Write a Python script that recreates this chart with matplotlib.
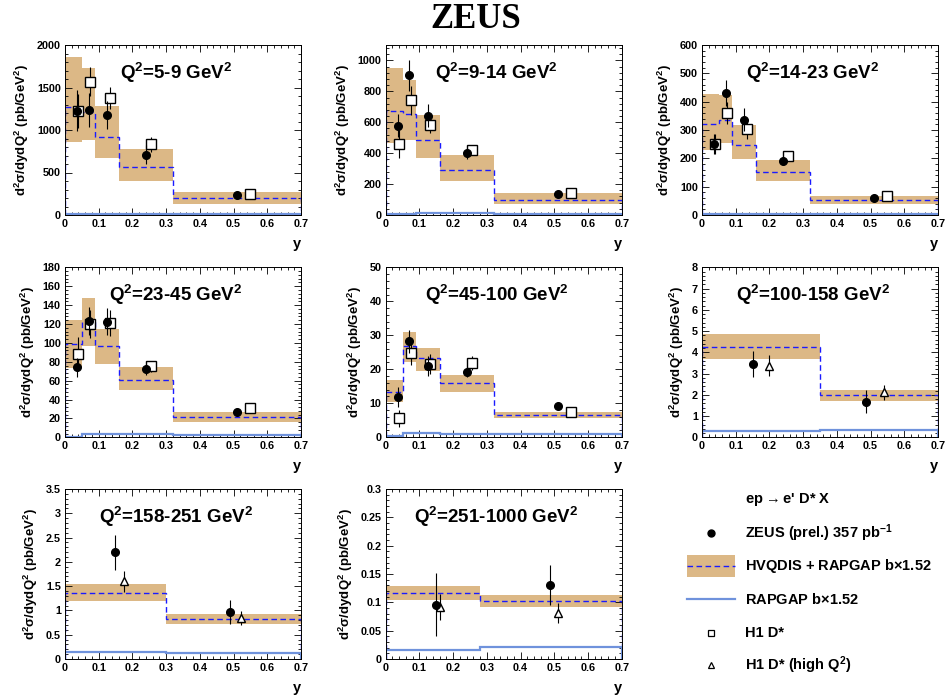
import matplotlib
matplotlib.use("Agg")
import matplotlib.pyplot as plt
import numpy as np
from matplotlib.ticker import AutoMinorLocator, MultipleLocator
from matplotlib.patches import Rectangle
from matplotlib.lines import Line2D

plt.rcParams["font.family"] = ["Liberation Sans", "DejaVu Sans"]
plt.rcParams["font.weight"] = "bold"
plt.rcParams["mathtext.default"] = "regular"

BAND = "#dcb886"
DASH = "#1a1aff"
RAP = "#6f92dc"

# bin edges in y
edges_5 = [0.0, 0.05, 0.09, 0.16, 0.32, 0.7]
edges_100 = [0.0, 0.35, 0.7]
edges_158 = [0.0, 0.30, 0.7]
edges_251 = [0.0, 0.28, 0.7]

x_zeus_5 = [0.035, 0.07, 0.125, 0.24, 0.51]
x_h1_5 = [0.038, 0.074, 0.132, 0.256, 0.55]

# Q2 = 5-9
q1_band_hi = [1855, 1727, 1285, 781, 273]
q1_band_lo = [855, 879, 672, 398, 133]
q1_nlo = [1270, 1215, 918, 559, 195]
q1_rap = [8, 12, 14, 13, 9]
q1_zeus = [1227, 1238, 1176, 711, 234]
q1_zeus_err = [240, 200, 160, 110, 20]
q1_h1 = [1227, 1570, 1375, 832, 242]
q1_h1_err = [200, 170, 130, 90, 20]

# Q2 = 9-14
q2_band_hi = [950, 875, 647, 391, 140]
q2_band_lo = [467, 484, 370, 219, 73]
q2_nlo = [675, 654, 488, 288, 95]
q2_rap = [5, 8, 10, 10, 8]
q2_zeus = [578, 905, 643, 398, 133]
q2_zeus_err = [75, 100, 75, 35, 10]
q2_h1 = [460, 742, 580, 419, 144]
q2_h1_err = [90, 95, 50, 30, 8]

# Q2 = 14-23
q3_band_hi = [428, 424, 319, 193, 67]
q3_band_lo = [231, 254, 198, 120, 40]
q3_nlo = [321, 336, 248, 152, 52]
q3_rap = [2, 4, 4, 4, 3]
q3_zeus = [251, 430, 336, 190, 61]
q3_zeus_err = [35, 45, 40, 15, 5]
q3_h1 = [251, 360, 303, 207, 67]
q3_h1_err = [35, 40, 35, 15, 5]

# Q2 = 23-45
q4_band_hi = [124, 148, 115, 74, 26.5]
q4_band_lo = [73, 97, 78, 50, 16.6]
q4_nlo = [98.5, 122.5, 97, 61, 21]
q4_rap = [0.8, 3, 3, 3, 2.5]
q4_zeus = [74, 123, 122.5, 72, 27]
q4_zeus_err = [10, 15, 14, 6, 2]
q4_h1 = [88, 120, 121, 75, 31.4]
q4_h1_err = [18, 15, 14, 6, 2]

# Q2 = 45-100
q5_band_hi = [16.9, 31, 26.2, 18.3, 7.5]
q5_band_lo = [10.3, 22, 19.5, 13.3, 5.6]
q5_nlo = [13.4, 26.9, 23.2, 15.9, 6.6]
q5_rap = [0.4, 1.2, 1.2, 1.1, 0.9]
q5_zeus = [11.9, 28.2, 21, 19.3, 9.2]
q5_zeus_err = [3, 3.5, 3, 1.5, 0.8]
q5_h1 = [5.6, 24.9, 21.6, 21.9, 7.5]
q5_h1_err = [2.5, 3.5, 3, 2, 0.6]

# Q2 = 100-158
q6_band_hi = [4.85, 2.23]
q6_band_lo = [3.67, 1.73]
q6_nlo = [4.27, 1.98]
q6_rap = [0.30, 0.35]
q6_x_zeus = [0.15, 0.486]
q6_zeus = [3.45, 1.68]
q6_zeus_err = [0.62, 0.55]
q6_x_h1 = [0.20, 0.54]
q6_h1 = [3.37, 2.12]
q6_h1_err = [0.5, 0.35]

# Q2 = 158-251
q7_band_hi = [1.545, 0.927]
q7_band_lo = [1.20, 0.72]
q7_nlo = [1.366, 0.824]
q7_rap = [0.144, 0.12]
q7_x_zeus = [0.148, 0.488]
q7_zeus = [2.2, 0.975]
q7_zeus_err = [0.36, 0.25]
q7_x_h1 = [0.176, 0.521]
q7_h1 = [1.6, 0.84]
q7_h1_err = [0.22, 0.14]

# Q2 = 251-1000
q8_band_hi = [0.1294, 0.113]
q8_band_lo = [0.104, 0.092]
q8_nlo = [0.117, 0.102]
q8_rap = [0.016, 0.022]
q8_x_zeus = [0.148, 0.488]
q8_zeus = [0.096, 0.1306]
q8_zeus_err = [0.056, 0.035]
q8_x_h1 = [0.16, 0.51]
q8_h1 = [0.092, 0.081]
q8_h1_err = [0.023, 0.017]

panels = [
    ("5-9", edges_5, q1_band_hi, q1_band_lo, q1_nlo, q1_rap, x_zeus_5, q1_zeus,
     q1_zeus_err, x_h1_5, q1_h1, q1_h1_err, "s", 2000, 500),
    ("9-14", edges_5, q2_band_hi, q2_band_lo, q2_nlo, q2_rap, x_zeus_5, q2_zeus,
     q2_zeus_err, x_h1_5, q2_h1, q2_h1_err, "s", 1100, 200),
    ("14-23", edges_5, q3_band_hi, q3_band_lo, q3_nlo, q3_rap, x_zeus_5, q3_zeus,
     q3_zeus_err, x_h1_5, q3_h1, q3_h1_err, "s", 600, 100),
    ("23-45", edges_5, q4_band_hi, q4_band_lo, q4_nlo, q4_rap, x_zeus_5, q4_zeus,
     q4_zeus_err, x_h1_5, q4_h1, q4_h1_err, "s", 180, 20),
    ("45-100", edges_5, q5_band_hi, q5_band_lo, q5_nlo, q5_rap, x_zeus_5, q5_zeus,
     q5_zeus_err, x_h1_5, q5_h1, q5_h1_err, "s", 50, 10),
    ("100-158", edges_100, q6_band_hi, q6_band_lo, q6_nlo, q6_rap, q6_x_zeus, q6_zeus,
     q6_zeus_err, q6_x_h1, q6_h1, q6_h1_err, "^", 8, 1),
    ("158-251", edges_158, q7_band_hi, q7_band_lo, q7_nlo, q7_rap, q7_x_zeus, q7_zeus,
     q7_zeus_err, q7_x_h1, q7_h1, q7_h1_err, "^", 3.5, 0.5),
    ("251-1000", edges_251, q8_band_hi, q8_band_lo, q8_nlo, q8_rap, q8_x_zeus, q8_zeus,
     q8_zeus_err, q8_x_h1, q8_h1, q8_h1_err, "^", 0.3, 0.05),
]

W, H = 947, 695
col_left = [65, 385.7, 702]
row_bottom = [215, 437.3, 659]
aw, ah = 236, 170

fig = plt.figure(figsize=(W / 100, H / 100), dpi=100)
fig.text(476 / W, 1 - 20 / H, "ZEUS", ha="center", va="center",
         family="Liberation Serif", weight="bold", fontsize=25)


def fmt(v):
    return "%g" % v


for i, (lab, edges, hi, lo, nlo, rap, xz, yz, ez, xh, yh, eh, hm, ymax, ystep) in enumerate(panels):
    r, c = divmod(i, 3)
    ax = fig.add_axes([col_left[c] / W, 1 - row_bottom[r] / H, aw / W, ah / H])
    e = np.array(edges)
    for k in range(len(hi)):
        ax.fill_between([e[k], e[k + 1]], lo[k], hi[k], color=BAND, lw=0, zorder=1)
    ax.stairs(nlo, e, color=DASH, lw=1.0, ls=(0, (4, 2.5)), zorder=2)
    ax.stairs(rap, e, color=RAP, lw=1.6, zorder=2)
    ax.errorbar(xh, yh, yerr=eh, fmt=hm, mfc="white", mec="black", ms=6.5 if hm == "s" else 6,
                mew=1.0, ecolor="black", elinewidth=0.8, capsize=0, zorder=4)
    ax.errorbar(xz, yz, yerr=ez, fmt="o", color="black", ms=5.5,
                elinewidth=0.8, capsize=0, zorder=5)
    ax.set_xlim(0, 0.7)
    ax.set_ylim(0, ymax)
    ax.set_xticks(np.arange(0, 0.71, 0.1))
    ax.set_xticklabels([fmt(round(v, 1)) for v in np.arange(0, 0.71, 0.1)])
    yt = np.arange(0, ymax + ystep * 0.01, ystep)
    ax.set_yticks(yt)
    ax.set_yticklabels([fmt(round(v, 3)) for v in yt])
    ax.xaxis.set_minor_locator(AutoMinorLocator(5))
    ax.yaxis.set_minor_locator(AutoMinorLocator(5))
    ax.tick_params(which="both", direction="in", top=True, right=True,
                   labelsize=7.8, pad=3)
    ax.tick_params(which="major", length=5, width=0.6)
    ax.tick_params(which="minor", length=2.5, width=0.6)
    for sp in ax.spines.values():
        sp.set_linewidth(0.7)
    ax.set_ylabel(r"d$^2\sigma$/dydQ$^2$ (pb/GeV$^2$)", fontsize=9.5, weight="bold",
                  labelpad=4)
    ax.text(0.47, 0.835, r"Q$^2$=" + lab + r" GeV$^2$", transform=ax.transAxes,
            ha="center", va="center", fontsize=13.5, weight="bold")
    ax.text(1.0, -0.17, "y", transform=ax.transAxes, ha="right", va="center",
            fontsize=10.5, weight="bold")

# legend drawn in the empty slot
lx_sym, lx_txt = 711, 745
fs = 10.5


def fx(px):
    return px / W


def fy(py):
    return 1 - py / H


fig.text(fx(lx_txt), fy(500), r"ep$\rightarrow$e' D* X", fontsize=fs, va="center")
fig.add_artist(Line2D([fx(lx_sym)], [fy(533)], marker="o", color="black", ms=5))
fig.text(fx(lx_txt), fy(533), r"ZEUS (prel.) 357 pb$^{-1}$", fontsize=fs, va="center")
fig.add_artist(Rectangle((fx(687), fy(577)), fx(735) - fx(687), fy(555) - fy(577),
                         transform=fig.transFigure, color=BAND, lw=0))
fig.add_artist(Line2D([fx(687), fx(735)], [fy(566), fy(566)], color=DASH, lw=1.0,
                      ls=(0, (4, 2.5))))
fig.text(fx(lx_txt), fy(566), r"HVQDIS + RAPGAP b$\times$1.52", fontsize=fs, va="center")
fig.add_artist(Line2D([fx(687), fx(735)], [fy(599), fy(599)], color=RAP, lw=1.6))
fig.text(fx(lx_txt), fy(600), r"RAPGAP b$\times$1.52", fontsize=fs, va="center")
fig.add_artist(Line2D([fx(lx_sym)], [fy(633)], marker="s", mfc="white", mec="black",
                      ms=5, mew=0.9, color="black"))
fig.text(fx(lx_txt), fy(633), "H1 D*", fontsize=fs, va="center")
fig.add_artist(Line2D([fx(lx_sym)], [fy(665)], marker="^", mfc="white", mec="black",
                      ms=5, mew=0.9, color="black"))
fig.text(fx(lx_txt), fy(665), r"H1 D* (high Q$^2$)", fontsize=fs, va="center")

fig.savefig("out.png", dpi=100)
